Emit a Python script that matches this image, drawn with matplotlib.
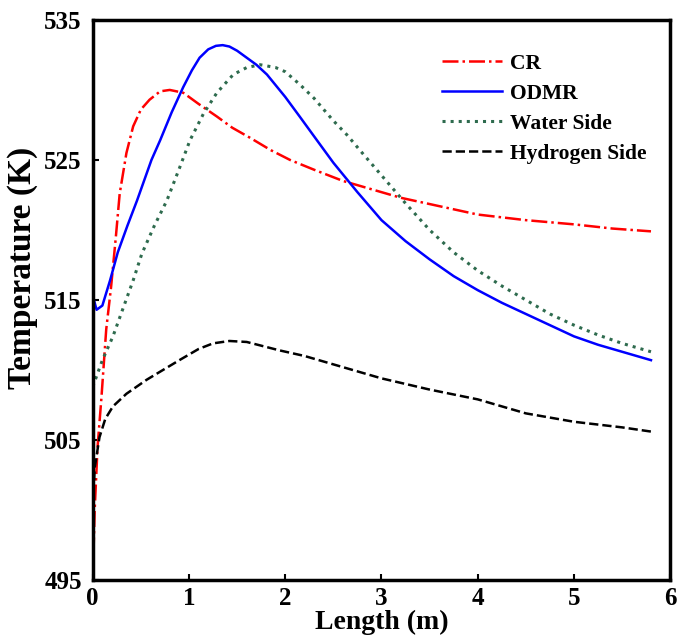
import numpy as np
import matplotlib
matplotlib.use("Agg")
from matplotlib import pyplot as plt

plt.rcParams['font.family'] = ['Liberation Serif', 'DejaVu Serif']
plt.rcParams['font.weight'] = 'bold'

# values
cr_x = [0.0, 0.02, 0.05, 0.09, 0.14, 0.19, 0.24, 0.28, 0.35, 0.42, 0.5, 0.59, 0.7, 0.8, 0.94,
        1.1, 1.29, 1.45, 1.63, 1.85, 2.05, 2.3, 2.6, 2.9, 3.2, 3.6, 4.0, 4.5, 5.0, 5.4, 5.8]
cr_y = [495.0, 500.0, 504.5, 508.0, 512.9, 515.9, 519.5, 522.6, 525.5, 527.4, 528.6, 529.3,
        529.9, 530.0, 529.8, 529.0, 528.1, 527.3, 526.6, 525.7, 525.0, 524.3, 523.5, 522.9,
        522.3, 521.7, 521.1, 520.7, 520.4, 520.1, 519.9]

odmr_x = [0.0, 0.04, 0.1, 0.18, 0.26, 0.36, 0.46, 0.61, 0.7, 0.82, 0.94, 1.03, 1.11, 1.2, 1.28,
          1.35, 1.42, 1.5, 1.6, 1.7, 1.81, 2.0, 2.15, 2.33, 2.5, 2.75, 3.0, 3.25, 3.5, 3.75,
          4.0, 4.25, 4.5, 4.75, 5.0, 5.25, 5.5, 5.8]
odmr_y = [515.3, 514.3, 514.6, 516.4, 518.4, 520.3, 522.1, 525.0, 526.4, 528.4, 530.2, 531.4,
          532.3, 532.9, 533.15, 533.2, 533.1, 532.8, 532.3, 531.8, 531.1, 529.5, 528.1, 526.4,
          524.8, 522.7, 520.7, 519.2, 517.9, 516.7, 515.7, 514.8, 514.0, 513.2, 512.4, 511.8,
          511.3, 510.7]

water_x = [0.0, 0.1, 0.21, 0.32, 0.42, 0.51, 0.64, 0.77, 0.9, 1.01, 1.15, 1.29, 1.46, 1.6,
           1.74, 1.9, 2.0, 2.15, 2.3, 2.5, 2.64, 2.8, 3.0, 3.25, 3.5, 3.75, 4.0, 4.25, 4.5,
           4.75, 5.0, 5.25, 5.5, 5.8]
water_y = [508.8, 510.7, 512.4, 514.5, 516.4, 518.3, 520.3, 522.1, 524.4, 526.4, 528.3, 529.8,
           531.1, 531.6, 531.8, 531.6, 531.3, 530.4, 529.4, 527.8, 526.8, 525.5, 523.9, 521.9,
           520.0, 518.4, 517.1, 516.0, 515.0, 514.0, 513.2, 512.5, 511.9, 511.3]

h2_x = [0.0, 0.02, 0.07, 0.13, 0.21, 0.35, 0.56, 0.9, 1.1, 1.25, 1.42, 1.6, 1.94, 2.2, 2.5,
        3.0, 3.5, 4.0, 4.5, 5.0, 5.5, 5.8]
h2_y = [500.2, 503.0, 505.2, 506.5, 507.4, 508.3, 509.3, 510.7, 511.5, 511.9, 512.07, 512.0,
        511.4, 511.0, 510.4, 509.4, 508.6, 507.9, 506.9, 506.3, 505.9, 505.6]

fig = plt.figure(figsize=(6.77, 6.43), dpi=100)
ax = fig.add_axes([0.137, 0.098, 0.853, 0.871])

ax.plot(cr_x, cr_y, color='red', linestyle='-.', lw=1.8, label='CR')
ax.plot(odmr_x, odmr_y, color='blue', linestyle='-', lw=1.8, label='ODMR')
ax.plot(water_x, water_y, color='#2e6b4e', linestyle=':', lw=2.2, label='Water Side')
ax.plot(h2_x, h2_y, color='black', linestyle='--', lw=1.8, label='Hydrogen Side')

ax.set_xlim(0, 6)
ax.set_ylim(495, 535)
ax.set_xticks(range(0, 7))
ax.set_yticks([495, 505, 515, 525, 535])
ax.tick_params(direction='in', length=4, width=1.5, labelsize=18)
ax.tick_params(axis='y', pad=8)
ax.tick_params(axis='x', pad=5)
for s in ax.spines.values():
    s.set_linewidth(2.5)
ax.set_xlabel('Length (m)', fontsize=20, fontweight='bold', labelpad=0)
ax.set_ylabel('Temperature (K)', fontsize=24, fontweight='bold', labelpad=2)
ax.yaxis.set_label_coords(-0.095, 0.557)

ax.legend(loc='upper left', bbox_to_anchor=(0.605, 0.94), frameon=False, fontsize=15.5,
          borderpad=0, borderaxespad=0, handlelength=2.8, handletextpad=0.35,
          labelspacing=0.46)

fig.savefig('out.png', dpi=100)
